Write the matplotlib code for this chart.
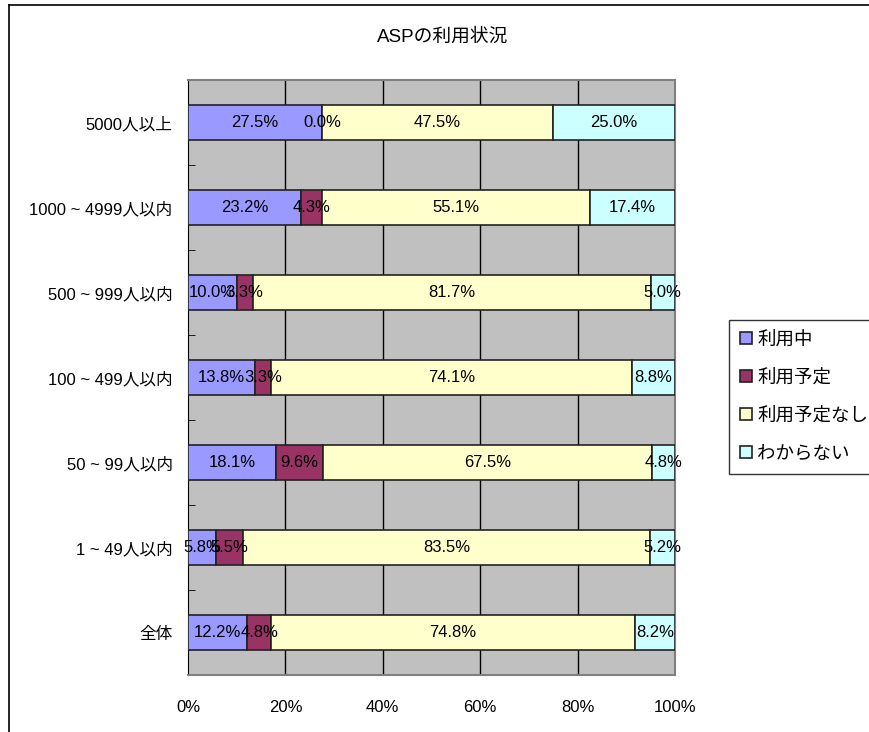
import numpy as np
import matplotlib
matplotlib.use("Agg")
import matplotlib.pyplot as plt
from matplotlib.lines import Line2D

plt.rcParams['font.family'] = ['Liberation Sans', 'Noto Sans CJK JP', 'DejaVu Sans']

# data (top to bottom as in the chart)
categories = ['5000人以上', '1000 ~ 4999人以内', '500 ~ 999人以内', '100 ~ 499人以内',
              '50 ~ 99人以内', '1 ~ 49人以内', '全体']
series = ['利用中', '利用予定', '利用予定なし', 'わからない']
in_use = [27.5, 23.2, 10.0, 13.8, 18.1, 5.8, 12.2]
planned = [0.0, 4.3, 3.3, 3.3, 9.6, 5.5, 4.8]
not_planned = [47.5, 55.1, 81.7, 74.1, 67.5, 83.5, 74.8]
unknown = [25.0, 17.4, 5.0, 8.8, 4.8, 5.2, 8.2]
colors = ['#9999FF', '#993366', '#FFFFCC', '#CCFFFF']

values = np.array([in_use, planned, not_planned, unknown])

fig = plt.figure(figsize=(8.7, 7.32), dpi=100)
ax = fig.add_axes([188/870, 1-675/732, (675-188)/870, (675-80)/732])
ax.set_facecolor('#C0C0C0')

n = len(categories)
y = np.arange(n)[::-1]
left = np.zeros(n)
for i, name in enumerate(series):
    ax.barh(y, values[i], left=left, height=0.41, color=colors[i],
            edgecolor='#222222', linewidth=1.2, label=name, zorder=3)
    for yy, l, v in zip(y, left, values[i]):
        ax.text(l + v/2, yy, f'{v:.1f}%', ha='center', va='center',
                fontsize=12, zorder=4)
    left += values[i]

ax.set_xlim(0, 100)
ax.set_ylim(-0.5, n - 0.5)
ax.set_xticks(np.arange(0, 101, 20))
ax.set_xticklabels([f'{t}%' for t in range(0, 101, 20)], fontsize=12)
ax.tick_params(axis='x', length=0, pad=18)
ax.set_yticks(y)
ax.set_yticklabels(categories, fontsize=12)
ax.tick_params(axis='y', length=0, pad=11)
ax.set_yticks(np.arange(n - 1) + 0.5, minor=True)
ax.tick_params(axis='y', which='minor', direction='in', length=5, color='black')
for t in [20, 40, 60, 80]:
    ax.axvline(t, color='black', linewidth=1, zorder=1)

for s in ['top', 'right', 'bottom']:
    ax.spines[s].set_color('#808080')
    ax.spines[s].set_linewidth(1.5)
ax.spines['left'].set_color('black')

fig.text(443/870, 1-37/732, 'ASPの利用状況', fontsize=13.5, ha='center', va='center')

leg = ax.legend(loc='upper left', bbox_to_anchor=(729/870, 1-320/732),
                bbox_transform=fig.transFigure, fontsize=13.3, frameon=True,
                fancybox=False, edgecolor='black', handlelength=0.62,
                handleheight=0.62, handletextpad=0.3, labelspacing=1.12,
                borderpad=0.62, borderaxespad=0)
leg.get_frame().set_linewidth(1)
for h in leg.legend_handles:
    h.set_edgecolor('#222222')

# outer chart frame
fig.add_artist(Line2D([9/870, 9/870], [0, 1-5/732], color='black', linewidth=1.2,
                      transform=fig.transFigure))
fig.add_artist(Line2D([9/870, 1], [1-5/732, 1-5/732], color='black', linewidth=1.2,
                      transform=fig.transFigure))

fig.savefig('out.png', dpi=100)
